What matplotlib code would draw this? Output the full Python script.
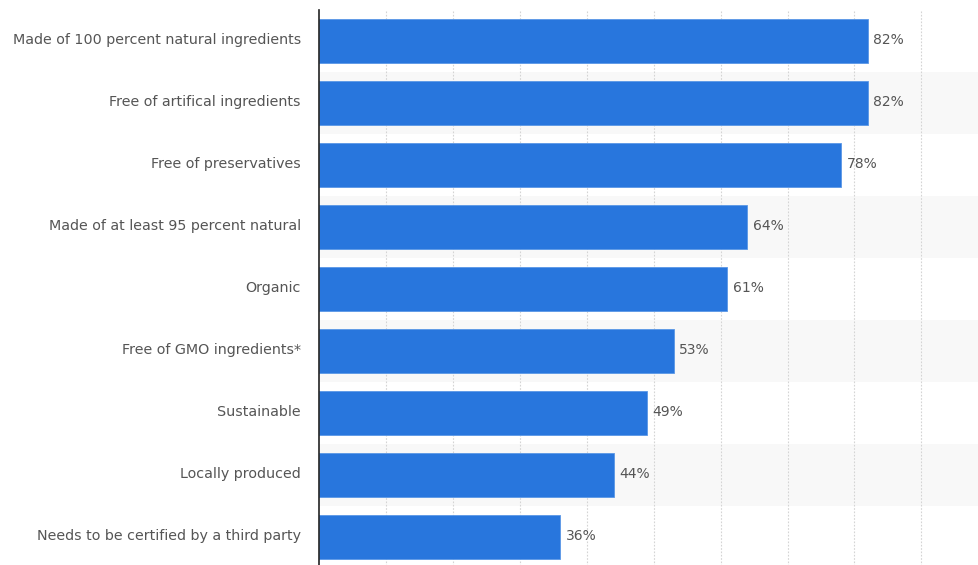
import matplotlib
matplotlib.use("Agg")
import matplotlib.pyplot as plt
import matplotlib.transforms as mtransforms

categories = [
    "Made of 100 percent natural ingredients",
    "Free of artifical ingredients",
    "Free of preservatives",
    "Made of at least 95 percent natural",
    "Organic",
    "Free of GMO ingredients*",
    "Sustainable",
    "Locally produced",
    "Needs to be certified by a third party",
]
values = [82, 82, 78, 64, 61, 53, 49, 44, 36]
value_labels = [f"{v}%" for v in values]
grid_ticks = [10, 20, 30, 40, 50, 60, 70, 80, 90]

W, H = 979, 565
fig = plt.figure(figsize=(W / 100, H / 100), dpi=100)
left = 319 / W
top_px = 10
ax = fig.add_axes([left, -3 / H, 1 - left, (H - top_px + 3) / H])

n = len(categories)
ypos = list(range(n))
ax.set_ylim(n - 0.5, -0.5)
ax.set_xlim(0, 98.6)

# alternating row bands
for i in ypos:
    if i % 2 == 1:
        ax.axhspan(i - 0.5, i + 0.5, color="#f8f8f8", zorder=0, lw=0)

ax.set_xticks(grid_ticks)
ax.grid(axis="x", color="#d4d4d4", linestyle=(0, (1.5, 1.5)), linewidth=0.8, zorder=1)
ax.set_axisbelow(True)

ax.barh(ypos, values, height=0.70, color="#2876dd", edgecolor="#5a97e6",
        linewidth=0.6, zorder=2)

for y, v, lab in zip(ypos, values, value_labels):
    ax.annotate(lab, xy=(v, y), xytext=(4, 0.8), textcoords="offset points",
                va="center", ha="left", fontsize=10, color="#555555")

ax.set_yticks(ypos)
ax.set_yticklabels(categories, fontsize=10.3, color="#555555")
ax.tick_params(axis="y", length=0, pad=13)
ax.tick_params(axis="x", length=0, labelbottom=False)
offset = mtransforms.ScaledTranslation(0, 1.5 / 72, fig.dpi_scale_trans)
for lbl in ax.get_yticklabels():
    lbl.set_transform(lbl.get_transform() + offset)

for s in ["top", "right", "bottom"]:
    ax.spines[s].set_visible(False)
ax.spines["left"].set_color("#222222")
ax.spines["left"].set_linewidth(1.2)
ax.spines["left"].set_zorder(3)

fig.savefig("out.png", dpi=100, facecolor="white")
